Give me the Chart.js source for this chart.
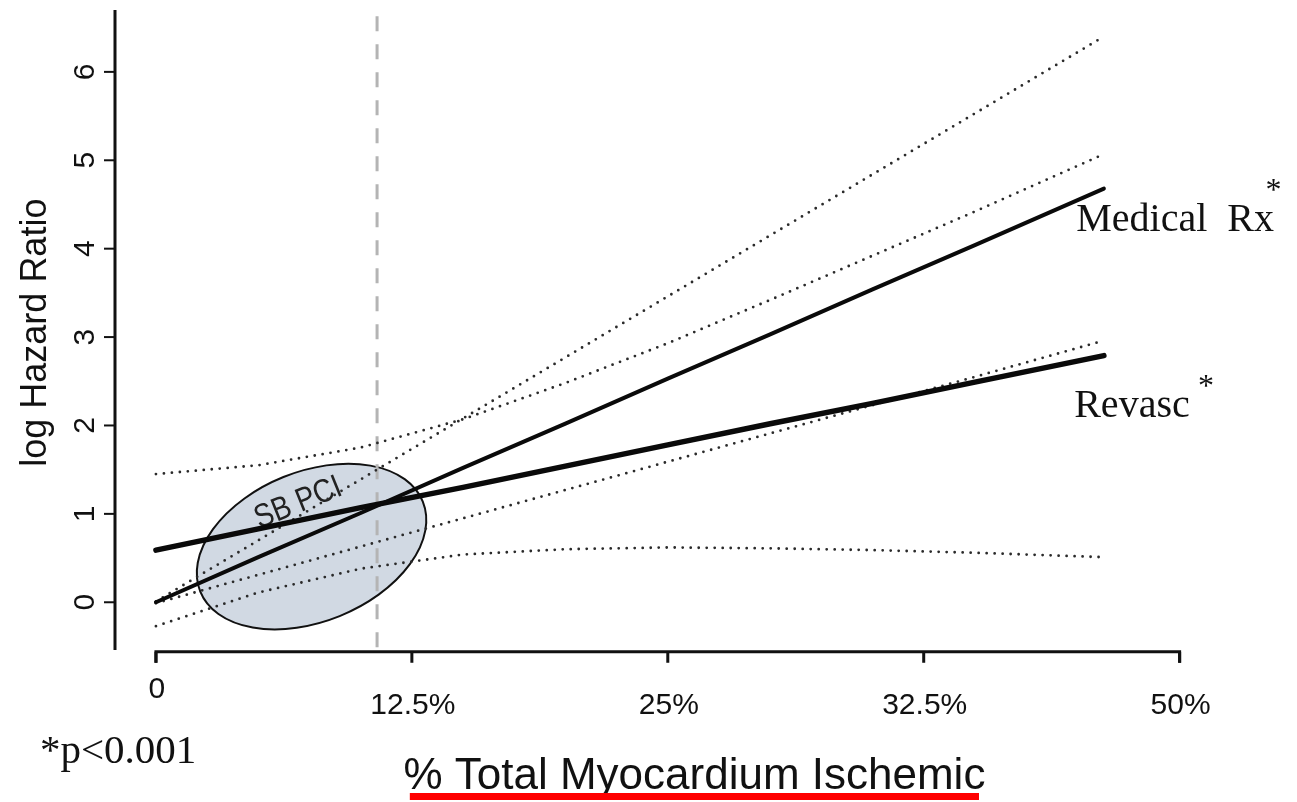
<!DOCTYPE html>
<html>
<head>
<meta charset="utf-8">
<title>log Hazard Ratio vs % Total Myocardium Ischemic</title>
<script src="https://cdn.jsdelivr.net/npm/chart.js@4.4.1/dist/chart.umd.min.js"></script>
<style>
  html, body { margin: 0; padding: 0; background: #fff; }
  #wrap { width: 1297px; height: 802px; }
</style>
</head>
<body>
<div id="wrap"><canvas id="hrChart" width="1297" height="802"></canvas></div>
<script>
// values
const ischemia = [0, 5, 10, 15, 20, 25, 30, 35, 40, 46.3];
const medicalRx = [0, 0.51, 1.01, 1.52, 2.02, 2.53, 3.03, 3.54, 4.04, 4.68];
const medicalUpper = [0.01, 0.70, 1.39, 2.08, 2.77, 3.46, 4.15, 4.84, 5.53, 6.40];
const medicalLower = [-0.01, 0.31, 0.63, 0.95, 1.27, 1.59, 1.91, 2.23, 2.55, 2.96];
const revasc = [0.59, 0.83, 1.07, 1.30, 1.54, 1.78, 2.02, 2.25, 2.49, 2.79];
const revascUpper = [1.45, 1.55, 1.75, 2.07, 2.48, 2.93, 3.42, 3.92, 4.42, 5.07];
const revascLower = [-0.27, 0.11, 0.38, 0.54, 0.60, 0.62, 0.61, 0.59, 0.56, 0.51];

const xTickValues = [0, 12.5, 25, 37.5, 50];
const xTickLabels = ['0', '12.5%', '25%', '32.5%', '50%'];
const yTickValues = [0, 1, 2, 3, 4, 5, 6];

const thresholdX = 10.8;        // dashed vertical line
const sbPci = { x: 7.6, y: 0.63 }; // centre of the SB PCI ellipse

const toPoints = (ys) => ischemia.map((x, i) => ({ x: x, y: ys[i] }));

const dotted = {
    borderColor: '#2a2a2a',
    borderWidth: 2.8,
    borderDash: [0, 8],
    borderCapStyle: 'round',
    pointRadius: 0,
    fill: false,
};

const overlay = {
    id: 'overlay',
    beforeDatasetsDraw(chart) {
        const { ctx, scales: { x, y } } = chart;
        // SB PCI ellipse
        ctx.save();
        ctx.beginPath();
        ctx.ellipse(x.getPixelForValue(sbPci.x), y.getPixelForValue(sbPci.y), 120, 75, -22 * Math.PI / 180, 0, Math.PI * 2);
        ctx.fillStyle = 'rgba(198, 208, 220, 0.8)';
        ctx.fill();
        ctx.lineWidth = 2;
        ctx.strokeStyle = '#111';
        ctx.stroke();
        ctx.restore();

        // dashed threshold line
        ctx.save();
        ctx.strokeStyle = '#b4b4b4';
        ctx.lineWidth = 3;
        ctx.setLineDash([15, 13]);
        ctx.beginPath();
        ctx.moveTo(x.getPixelForValue(thresholdX), y.getPixelForValue(6.63));
        ctx.lineTo(x.getPixelForValue(thresholdX), y.getPixelForValue(-0.51));
        ctx.stroke();
        ctx.restore();

        // SB PCI label
        ctx.save();
        ctx.translate(x.getPixelForValue(6.95), y.getPixelForValue(1.12));
        ctx.rotate(-22 * Math.PI / 180);
        ctx.scale(0.84, 1);
        ctx.font = '33px "Liberation Sans", Arial, sans-serif';
        ctx.fillStyle = '#222';
        ctx.textAlign = 'center';
        ctx.textBaseline = 'middle';
        ctx.fillText('SB PCI', 0, 0);
        ctx.restore();
    },
    afterDraw(chart) {
        const { ctx, scales: { x, y } } = chart;
        const axisX = x.getPixelForValue(-2);
        const axisY = y.getPixelForValue(-0.56);
        ctx.save();
        ctx.strokeStyle = '#111';
        ctx.fillStyle = '#111';
        ctx.lineWidth = 3;

        // y axis
        ctx.beginPath();
        ctx.moveTo(axisX, y.getPixelForValue(6.7));
        ctx.lineTo(axisX, y.getPixelForValue(-0.54));
        ctx.stroke();
        ctx.lineWidth = 2;
        ctx.font = '30px "Liberation Sans", Arial, sans-serif';
        ctx.textAlign = 'center';
        ctx.textBaseline = 'middle';
        yTickValues.forEach(v => {
            const py = y.getPixelForValue(v);
            ctx.beginPath();
            ctx.moveTo(axisX - 11, py);
            ctx.lineTo(axisX, py);
            ctx.stroke();
            ctx.save();
            ctx.translate(axisX - 30, py);
            ctx.rotate(-Math.PI / 2);
            ctx.fillText(String(v), 0, 1);
            ctx.restore();
        });

        // y title
        ctx.save();
        ctx.translate(36, y.getPixelForValue(3.05));
        ctx.rotate(-Math.PI / 2);
        ctx.font = '36px "Liberation Sans", Arial, sans-serif';
        ctx.fillText('log Hazard Ratio', 0, 0);
        ctx.restore();

        // x axis
        ctx.lineWidth = 3;
        ctx.beginPath();
        ctx.moveTo(x.getPixelForValue(0), axisY + 11);
        ctx.lineTo(x.getPixelForValue(0), axisY);
        ctx.lineTo(x.getPixelForValue(50), axisY);
        ctx.lineTo(x.getPixelForValue(50), axisY + 11);
        ctx.stroke();
        ctx.font = '30px "Liberation Sans", Arial, sans-serif';
        ctx.textBaseline = 'alphabetic';
        xTickValues.forEach((v, i) => {
            const px = x.getPixelForValue(v);
            ctx.beginPath();
            ctx.moveTo(px, axisY);
            ctx.lineTo(px, axisY + 11);
            ctx.stroke();
            ctx.fillText(xTickLabels[i], px + 1, i === 0 ? axisY + 46 : axisY + 62);
        });

        // x title with red underline
        ctx.font = '44px "Liberation Sans", Arial, sans-serif';
        ctx.fillText('% Total Myocardium Ischemic', x.getPixelForValue(26.3), 789);
        ctx.fillStyle = '#ff0000';
        ctx.fillRect(x.getPixelForValue(12.4), 793, x.getPixelForValue(40.2) - x.getPixelForValue(12.4), 7);

        // series labels
        ctx.fillStyle = '#111';
        ctx.textAlign = 'left';
        ctx.font = '40px "Liberation Serif", "Times New Roman", serif';
        ctx.fillText('Medical  Rx', x.getPixelForValue(44.95), y.getPixelForValue(4.2));
        ctx.fillText('Revasc', x.getPixelForValue(44.85), y.getPixelForValue(2.1));
        ctx.font = '32px "Liberation Serif", "Times New Roman", serif';
        ctx.fillText('*', x.getPixelForValue(54.2), y.getPixelForValue(4.55));
        ctx.fillText('*', x.getPixelForValue(50.9), y.getPixelForValue(2.33));
        ctx.font = '41px "Liberation Serif", "Times New Roman", serif';
        ctx.fillText('*p<0.001', 40, 763);
        ctx.restore();
    }
};

const ctx = document.getElementById('hrChart').getContext('2d');
const hrChart = new Chart(ctx, {
    type: 'line',
    data: {
        datasets: [
            { label: 'Medical Rx', data: toPoints(medicalRx), borderColor: '#0a0a0a', borderWidth: 4, pointRadius: 0, borderCapStyle: 'round' },
            { label: 'Revasc', data: toPoints(revasc), borderColor: '#0a0a0a', borderWidth: 5.5, pointRadius: 0, borderCapStyle: 'round' },
            Object.assign({ label: 'Medical upper', data: toPoints(medicalUpper) }, dotted),
            Object.assign({ label: 'Medical lower', data: toPoints(medicalLower) }, dotted),
            Object.assign({ label: 'Revasc upper', data: toPoints(revascUpper) }, dotted),
            Object.assign({ label: 'Revasc lower', data: toPoints(revascLower) }, dotted),
        ]
    },
    options: {
        responsive: false,
        animation: false,
        layout: { padding: { left: 115, right: 15, top: 10, bottom: 152 } },
        scales: {
            x: { type: 'linear', min: -2, max: 55, display: false },
            y: { type: 'linear', min: -0.54, max: 6.7, display: false }
        },
        plugins: {
            legend: { display: false },
            tooltip: { enabled: false }
        }
    },
    plugins: [overlay]
});
</script>
</body>
</html>
